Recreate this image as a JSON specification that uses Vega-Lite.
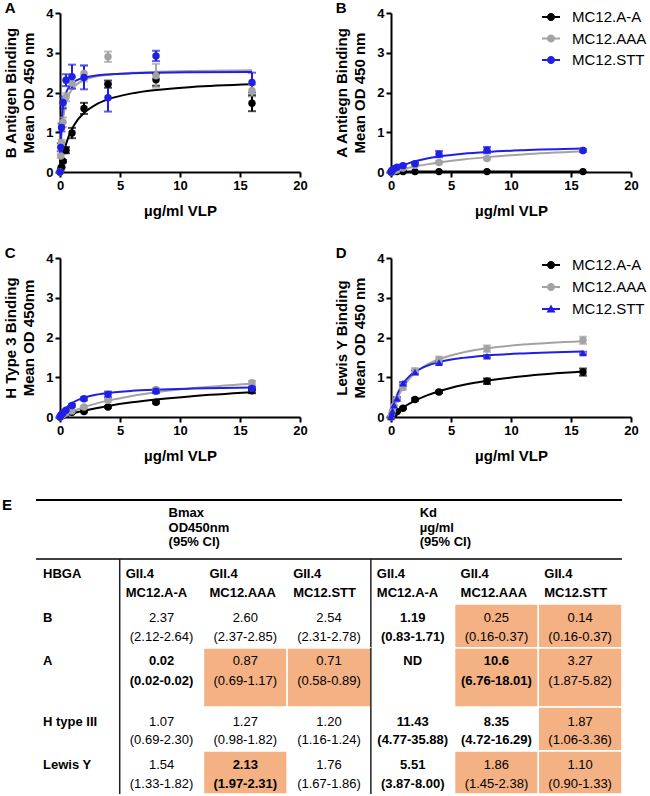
{
"$schema": "https://vega.github.io/schema/vega-lite/v6.json",
"padding": {"left": 2, "top": 1, "right": 0, "bottom": 0},
"background": "white",
"config": {
 "view": {"stroke": null},
 "font": "Liberation Sans",
 "axis": {"domainColor": "#000", "domainWidth": 2, "tickColor": "#000", "tickWidth": 2, "tickSize": 5, "labelColor": "#000", "labelFont": "Liberation Sans", "labelFontSize": 13, "labelFontWeight": "bold", "labelPadding": 2, "titleColor": "#000", "titleFont": "Liberation Sans", "titleFontSize": 15, "titleFontWeight": "bold", "grid": false, "titleLineHeight": 18, "labelFlush": false, "labelOverlap": false},
 "axisX": {"titlePadding": 11},
 "axisY": {"titlePadding": 9},
 "title": {"fontSize": 15, "fontWeight": "bold", "color": "#000", "anchor": "start", "frame": "bounds", "font": "Liberation Sans"},
 "text": {"font": "Liberation Sans", "fontSize": 13, "color": "#000", "baseline": "middle"}
},
"datasets": {
 "fit": [
  {"p":"A","s":"MC12.A-A","x":0,"y":0},{"p":"A","s":"MC12.A-A","x":0.0625,"y":0.118},{"p":"A","s":"MC12.A-A","x":0.125,"y":0.225},{"p":"A","s":"MC12.A-A","x":0.25,"y":0.411},{"p":"A","s":"MC12.A-A","x":0.5,"y":0.701},{"p":"A","s":"MC12.A-A","x":0.75,"y":0.916},{"p":"A","s":"MC12.A-A","x":1,"y":1.082},{"p":"A","s":"MC12.A-A","x":1.5,"y":1.322},{"p":"A","s":"MC12.A-A","x":2,"y":1.486},{"p":"A","s":"MC12.A-A","x":3,"y":1.697},{"p":"A","s":"MC12.A-A","x":4,"y":1.827},{"p":"A","s":"MC12.A-A","x":6,"y":1.978},{"p":"A","s":"MC12.A-A","x":8,"y":2.063},{"p":"A","s":"MC12.A-A","x":11,"y":2.139},{"p":"A","s":"MC12.A-A","x":16,"y":2.206},
  {"p":"A","s":"MC12.AAA","x":0,"y":0},{"p":"A","s":"MC12.AAA","x":0.0625,"y":0.52},{"p":"A","s":"MC12.AAA","x":0.125,"y":0.867},{"p":"A","s":"MC12.AAA","x":0.25,"y":1.3},{"p":"A","s":"MC12.AAA","x":0.5,"y":1.733},{"p":"A","s":"MC12.AAA","x":0.75,"y":1.95},{"p":"A","s":"MC12.AAA","x":1,"y":2.08},{"p":"A","s":"MC12.AAA","x":1.5,"y":2.229},{"p":"A","s":"MC12.AAA","x":2,"y":2.311},{"p":"A","s":"MC12.AAA","x":3,"y":2.4},{"p":"A","s":"MC12.AAA","x":4,"y":2.447},{"p":"A","s":"MC12.AAA","x":6,"y":2.496},{"p":"A","s":"MC12.AAA","x":8,"y":2.521},{"p":"A","s":"MC12.AAA","x":11,"y":2.542},{"p":"A","s":"MC12.AAA","x":16,"y":2.56},
  {"p":"A","s":"MC12.STT","x":0,"y":0},{"p":"A","s":"MC12.STT","x":0.0625,"y":0.784},{"p":"A","s":"MC12.STT","x":0.125,"y":1.198},{"p":"A","s":"MC12.STT","x":0.25,"y":1.628},{"p":"A","s":"MC12.STT","x":0.5,"y":1.984},{"p":"A","s":"MC12.STT","x":0.75,"y":2.14},{"p":"A","s":"MC12.STT","x":1,"y":2.228},{"p":"A","s":"MC12.STT","x":1.5,"y":2.323},{"p":"A","s":"MC12.STT","x":2,"y":2.374},{"p":"A","s":"MC12.STT","x":3,"y":2.427},{"p":"A","s":"MC12.STT","x":4,"y":2.454},{"p":"A","s":"MC12.STT","x":6,"y":2.482},{"p":"A","s":"MC12.STT","x":8,"y":2.496},{"p":"A","s":"MC12.STT","x":11,"y":2.508},{"p":"A","s":"MC12.STT","x":16,"y":2.518},
  {"p":"B","s":"MC12.A-A","x":0,"y":0},{"p":"B","s":"MC12.A-A","x":0.5,"y":0.008},{"p":"B","s":"MC12.A-A","x":1,"y":0.01},{"p":"B","s":"MC12.A-A","x":2,"y":0.011},{"p":"B","s":"MC12.A-A","x":4,"y":0.011},{"p":"B","s":"MC12.A-A","x":8,"y":0.012},{"p":"B","s":"MC12.A-A","x":16,"y":0.013},
  {"p":"B","s":"MC12.AAA","x":0,"y":0},{"p":"B","s":"MC12.AAA","x":0.0625,"y":0.0054},{"p":"B","s":"MC12.AAA","x":0.125,"y":0.0101},{"p":"B","s":"MC12.AAA","x":0.25,"y":0.02},{"p":"B","s":"MC12.AAA","x":0.5,"y":0.0392},{"p":"B","s":"MC12.AAA","x":0.75,"y":0.0575},{"p":"B","s":"MC12.AAA","x":1,"y":0.075},{"p":"B","s":"MC12.AAA","x":1.5,"y":0.1079},{"p":"B","s":"MC12.AAA","x":2,"y":0.138},{"p":"B","s":"MC12.AAA","x":3,"y":0.1919},{"p":"B","s":"MC12.AAA","x":4,"y":0.2384},{"p":"B","s":"MC12.AAA","x":6,"y":0.3145},{"p":"B","s":"MC12.AAA","x":8,"y":0.3742},{"p":"B","s":"MC12.AAA","x":11,"y":0.443},{"p":"B","s":"MC12.AAA","x":16,"y":0.5233},
  {"p":"B","s":"MC12.STT","x":0,"y":0},{"p":"B","s":"MC12.STT","x":0.0625,"y":0.0133},{"p":"B","s":"MC12.STT","x":0.125,"y":0.0261},{"p":"B","s":"MC12.STT","x":0.25,"y":0.0504},{"p":"B","s":"MC12.STT","x":0.5,"y":0.0942},{"p":"B","s":"MC12.STT","x":0.75,"y":0.1325},{"p":"B","s":"MC12.STT","x":1,"y":0.1663},{"p":"B","s":"MC12.STT","x":1.5,"y":0.2233},{"p":"B","s":"MC12.STT","x":2,"y":0.2694},{"p":"B","s":"MC12.STT","x":3,"y":0.3397},{"p":"B","s":"MC12.STT","x":4,"y":0.3906},{"p":"B","s":"MC12.STT","x":6,"y":0.4595},{"p":"B","s":"MC12.STT","x":8,"y":0.504},{"p":"B","s":"MC12.STT","x":11,"y":0.547},{"p":"B","s":"MC12.STT","x":16,"y":0.5895},
  {"p":"C","s":"MC12.A-A","x":0,"y":0},{"p":"C","s":"MC12.A-A","x":0.0625,"y":0.0058},{"p":"C","s":"MC12.A-A","x":0.125,"y":0.0116},{"p":"C","s":"MC12.A-A","x":0.25,"y":0.0229},{"p":"C","s":"MC12.A-A","x":0.5,"y":0.0448},{"p":"C","s":"MC12.A-A","x":0.75,"y":0.0659},{"p":"C","s":"MC12.A-A","x":1,"y":0.0861},{"p":"C","s":"MC12.A-A","x":1.5,"y":0.1241},{"p":"C","s":"MC12.A-A","x":2,"y":0.1593},{"p":"C","s":"MC12.A-A","x":3,"y":0.2225},{"p":"C","s":"MC12.A-A","x":4,"y":0.2774},{"p":"C","s":"MC12.A-A","x":6,"y":0.3683},{"p":"C","s":"MC12.A-A","x":8,"y":0.4405},{"p":"C","s":"MC12.A-A","x":11,"y":0.5247},{"p":"C","s":"MC12.A-A","x":16,"y":0.6242},
  {"p":"C","s":"MC12.AAA","x":0,"y":0},{"p":"C","s":"MC12.AAA","x":0.0625,"y":0.0094},{"p":"C","s":"MC12.AAA","x":0.125,"y":0.0187},{"p":"C","s":"MC12.AAA","x":0.25,"y":0.0369},{"p":"C","s":"MC12.AAA","x":0.5,"y":0.0718},{"p":"C","s":"MC12.AAA","x":0.75,"y":0.1047},{"p":"C","s":"MC12.AAA","x":1,"y":0.1358},{"p":"C","s":"MC12.AAA","x":1.5,"y":0.1934},{"p":"C","s":"MC12.AAA","x":2,"y":0.2454},{"p":"C","s":"MC12.AAA","x":3,"y":0.3357},{"p":"C","s":"MC12.AAA","x":4,"y":0.4113},{"p":"C","s":"MC12.AAA","x":6,"y":0.531},{"p":"C","s":"MC12.AAA","x":8,"y":0.6214},{"p":"C","s":"MC12.AAA","x":11,"y":0.722},{"p":"C","s":"MC12.AAA","x":16,"y":0.8345},
  {"p":"C","s":"MC12.STT","x":0,"y":0},{"p":"C","s":"MC12.STT","x":0.0625,"y":0.0367},{"p":"C","s":"MC12.STT","x":0.125,"y":0.0702},{"p":"C","s":"MC12.STT","x":0.25,"y":0.129},{"p":"C","s":"MC12.STT","x":0.5,"y":0.222},{"p":"C","s":"MC12.STT","x":0.75,"y":0.293},{"p":"C","s":"MC12.STT","x":1,"y":0.348},{"p":"C","s":"MC12.STT","x":1.5,"y":0.429},{"p":"C","s":"MC12.STT","x":2,"y":0.485},{"p":"C","s":"MC12.STT","x":3,"y":0.558},{"p":"C","s":"MC12.STT","x":4,"y":0.604},{"p":"C","s":"MC12.STT","x":6,"y":0.658},{"p":"C","s":"MC12.STT","x":8,"y":0.688},{"p":"C","s":"MC12.STT","x":11,"y":0.715},{"p":"C","s":"MC12.STT","x":16,"y":0.74},
  {"p":"D","s":"MC12.A-A","x":0,"y":0},{"p":"D","s":"MC12.A-A","x":0.0625,"y":0.0173},{"p":"D","s":"MC12.A-A","x":0.125,"y":0.0341},{"p":"D","s":"MC12.A-A","x":0.25,"y":0.0668},{"p":"D","s":"MC12.A-A","x":0.5,"y":0.1281},{"p":"D","s":"MC12.A-A","x":0.75,"y":0.1845},{"p":"D","s":"MC12.A-A","x":1,"y":0.2366},{"p":"D","s":"MC12.A-A","x":1.5,"y":0.3295},{"p":"D","s":"MC12.A-A","x":2,"y":0.4101},{"p":"D","s":"MC12.A-A","x":3,"y":0.5429},{"p":"D","s":"MC12.A-A","x":4,"y":0.6477},{"p":"D","s":"MC12.A-A","x":6,"y":0.8028},{"p":"D","s":"MC12.A-A","x":8,"y":0.9119},{"p":"D","s":"MC12.A-A","x":11,"y":1.026},{"p":"D","s":"MC12.A-A","x":16,"y":1.1445},
  {"p":"D","s":"MC12.AAA","x":0,"y":0},{"p":"D","s":"MC12.AAA","x":0.0625,"y":0.0692},{"p":"D","s":"MC12.AAA","x":0.125,"y":0.1338},{"p":"D","s":"MC12.AAA","x":0.25,"y":0.2524},{"p":"D","s":"MC12.AAA","x":0.5,"y":0.4513},{"p":"D","s":"MC12.AAA","x":0.75,"y":0.6121},{"p":"D","s":"MC12.AAA","x":1,"y":0.7448},{"p":"D","s":"MC12.AAA","x":1.5,"y":0.9509},{"p":"D","s":"MC12.AAA","x":2,"y":1.104},{"p":"D","s":"MC12.AAA","x":3,"y":1.315},{"p":"D","s":"MC12.AAA","x":4,"y":1.454},{"p":"D","s":"MC12.AAA","x":6,"y":1.626},{"p":"D","s":"MC12.AAA","x":8,"y":1.728},{"p":"D","s":"MC12.AAA","x":11,"y":1.822},{"p":"D","s":"MC12.AAA","x":16,"y":1.908},
  {"p":"D","s":"MC12.STT","x":0,"y":0},{"p":"D","s":"MC12.STT","x":0.0625,"y":0.0946},{"p":"D","s":"MC12.STT","x":0.125,"y":0.1796},{"p":"D","s":"MC12.STT","x":0.25,"y":0.3259},{"p":"D","s":"MC12.STT","x":0.5,"y":0.55},{"p":"D","s":"MC12.STT","x":0.75,"y":0.7135},{"p":"D","s":"MC12.STT","x":1,"y":0.8381},{"p":"D","s":"MC12.STT","x":1.5,"y":1.0154},{"p":"D","s":"MC12.STT","x":2,"y":1.1355},{"p":"D","s":"MC12.STT","x":3,"y":1.2878},{"p":"D","s":"MC12.STT","x":4,"y":1.3804},{"p":"D","s":"MC12.STT","x":6,"y":1.4873},{"p":"D","s":"MC12.STT","x":8,"y":1.5473},{"p":"D","s":"MC12.STT","x":11,"y":1.6},{"p":"D","s":"MC12.STT","x":16,"y":1.6468}
 ],
 "pts": [
  {"p":"A","s":"MC12.A-A","x":0,"y":0,"sd":0},{"p":"A","s":"MC12.A-A","x":0.0625,"y":0.05,"sd":0},{"p":"A","s":"MC12.A-A","x":0.125,"y":0.12,"sd":0.02},{"p":"A","s":"MC12.A-A","x":0.25,"y":0.27,"sd":0.03},{"p":"A","s":"MC12.A-A","x":0.5,"y":0.55,"sd":0.08},{"p":"A","s":"MC12.A-A","x":1,"y":0.98,"sd":0.13},{"p":"A","s":"MC12.A-A","x":2,"y":1.6,"sd":0.14},{"p":"A","s":"MC12.A-A","x":4,"y":2.21,"sd":0.09},{"p":"A","s":"MC12.A-A","x":8,"y":2.32,"sd":0.15},{"p":"A","s":"MC12.A-A","x":16,"y":1.73,"sd":0.2},
  {"p":"A","s":"MC12.AAA","x":0,"y":0,"sd":0},{"p":"A","s":"MC12.AAA","x":0.0625,"y":0.4,"sd":0.05},{"p":"A","s":"MC12.AAA","x":0.125,"y":0.73,"sd":0.08},{"p":"A","s":"MC12.AAA","x":0.25,"y":1.25,"sd":0.12},{"p":"A","s":"MC12.AAA","x":0.5,"y":1.88,"sd":0.1},{"p":"A","s":"MC12.AAA","x":1,"y":2.24,"sd":0.15},{"p":"A","s":"MC12.AAA","x":2,"y":2.48,"sd":0.2},{"p":"A","s":"MC12.AAA","x":4,"y":2.9,"sd":0.13},{"p":"A","s":"MC12.AAA","x":8,"y":2.42,"sd":0.3},{"p":"A","s":"MC12.AAA","x":16,"y":2.05,"sd":0.15},
  {"p":"A","s":"MC12.STT","x":0,"y":0,"sd":0},{"p":"A","s":"MC12.STT","x":0.0625,"y":0.62,"sd":0.1},{"p":"A","s":"MC12.STT","x":0.125,"y":1.12,"sd":0.1},{"p":"A","s":"MC12.STT","x":0.25,"y":1.75,"sd":0.15},{"p":"A","s":"MC12.STT","x":0.5,"y":2.31,"sd":0.15},{"p":"A","s":"MC12.STT","x":1,"y":2.4,"sd":0.3},{"p":"A","s":"MC12.STT","x":2,"y":2.38,"sd":0.3},{"p":"A","s":"MC12.STT","x":4,"y":1.87,"sd":0.35},{"p":"A","s":"MC12.STT","x":8,"y":2.92,"sd":0.13},{"p":"A","s":"MC12.STT","x":16,"y":2.25,"sd":0.25},
  {"p":"B","s":"MC12.A-A","x":0,"y":0,"sd":0},{"p":"B","s":"MC12.A-A","x":0.0625,"y":0.01,"sd":0},{"p":"B","s":"MC12.A-A","x":0.125,"y":0.01,"sd":0},{"p":"B","s":"MC12.A-A","x":0.25,"y":0.01,"sd":0},{"p":"B","s":"MC12.A-A","x":0.5,"y":0.01,"sd":0},{"p":"B","s":"MC12.A-A","x":1,"y":0.01,"sd":0},{"p":"B","s":"MC12.A-A","x":2,"y":0.01,"sd":0},{"p":"B","s":"MC12.A-A","x":4,"y":0.01,"sd":0},{"p":"B","s":"MC12.A-A","x":8,"y":0.01,"sd":0},{"p":"B","s":"MC12.A-A","x":16,"y":0.01,"sd":0},
  {"p":"B","s":"MC12.AAA","x":0,"y":0,"sd":0},{"p":"B","s":"MC12.AAA","x":0.0625,"y":0.01,"sd":0},{"p":"B","s":"MC12.AAA","x":0.125,"y":0.02,"sd":0},{"p":"B","s":"MC12.AAA","x":0.25,"y":0.03,"sd":0},{"p":"B","s":"MC12.AAA","x":0.5,"y":0.05,"sd":0},{"p":"B","s":"MC12.AAA","x":1,"y":0.1,"sd":0.02},{"p":"B","s":"MC12.AAA","x":2,"y":0.17,"sd":0.02},{"p":"B","s":"MC12.AAA","x":4,"y":0.24,"sd":0.03},{"p":"B","s":"MC12.AAA","x":8,"y":0.34,"sd":0.03},{"p":"B","s":"MC12.AAA","x":16,"y":0.54,"sd":0.03},
  {"p":"B","s":"MC12.STT","x":0,"y":0,"sd":0},{"p":"B","s":"MC12.STT","x":0.0625,"y":0.03,"sd":0},{"p":"B","s":"MC12.STT","x":0.125,"y":0.05,"sd":0},{"p":"B","s":"MC12.STT","x":0.25,"y":0.08,"sd":0},{"p":"B","s":"MC12.STT","x":0.5,"y":0.12,"sd":0.02},{"p":"B","s":"MC12.STT","x":1,"y":0.16,"sd":0.03},{"p":"B","s":"MC12.STT","x":2,"y":0.21,"sd":0.03},{"p":"B","s":"MC12.STT","x":4,"y":0.45,"sd":0.08},{"p":"B","s":"MC12.STT","x":8,"y":0.55,"sd":0.08},{"p":"B","s":"MC12.STT","x":16,"y":0.54,"sd":0.03},
  {"p":"C","s":"MC12.A-A","x":0,"y":0,"sd":0},{"p":"C","s":"MC12.A-A","x":0.0625,"y":0.01,"sd":0},{"p":"C","s":"MC12.A-A","x":0.125,"y":0.03,"sd":0},{"p":"C","s":"MC12.A-A","x":0.25,"y":0.05,"sd":0},{"p":"C","s":"MC12.A-A","x":0.5,"y":0.08,"sd":0},{"p":"C","s":"MC12.A-A","x":1,"y":0.12,"sd":0.02},{"p":"C","s":"MC12.A-A","x":2,"y":0.14,"sd":0.02},{"p":"C","s":"MC12.A-A","x":4,"y":0.25,"sd":0.02},{"p":"C","s":"MC12.A-A","x":8,"y":0.37,"sd":0.03},{"p":"C","s":"MC12.A-A","x":16,"y":0.66,"sd":0.06},
  {"p":"C","s":"MC12.AAA","x":0,"y":0,"sd":0},{"p":"C","s":"MC12.AAA","x":0.0625,"y":0.02,"sd":0},{"p":"C","s":"MC12.AAA","x":0.125,"y":0.04,"sd":0},{"p":"C","s":"MC12.AAA","x":0.25,"y":0.06,"sd":0},{"p":"C","s":"MC12.AAA","x":0.5,"y":0.1,"sd":0},{"p":"C","s":"MC12.AAA","x":1,"y":0.15,"sd":0.02},{"p":"C","s":"MC12.AAA","x":2,"y":0.25,"sd":0.03},{"p":"C","s":"MC12.AAA","x":4,"y":0.42,"sd":0.03},{"p":"C","s":"MC12.AAA","x":8,"y":0.69,"sd":0.04},{"p":"C","s":"MC12.AAA","x":16,"y":0.86,"sd":0.05},
  {"p":"C","s":"MC12.STT","x":0,"y":0,"sd":0},{"p":"C","s":"MC12.STT","x":0.0625,"y":0.04,"sd":0},{"p":"C","s":"MC12.STT","x":0.125,"y":0.06,"sd":0},{"p":"C","s":"MC12.STT","x":0.25,"y":0.1,"sd":0},{"p":"C","s":"MC12.STT","x":0.5,"y":0.17,"sd":0.02},{"p":"C","s":"MC12.STT","x":1,"y":0.29,"sd":0.03},{"p":"C","s":"MC12.STT","x":2,"y":0.46,"sd":0.04},{"p":"C","s":"MC12.STT","x":4,"y":0.57,"sd":0.07},{"p":"C","s":"MC12.STT","x":8,"y":0.65,"sd":0.05},{"p":"C","s":"MC12.STT","x":16,"y":0.72,"sd":0.04},
  {"p":"D","s":"MC12.A-A","x":0,"y":0,"sd":0},{"p":"D","s":"MC12.A-A","x":0.0625,"y":0.02,"sd":0},{"p":"D","s":"MC12.A-A","x":0.125,"y":0.04,"sd":0},{"p":"D","s":"MC12.A-A","x":0.25,"y":0.07,"sd":0},{"p":"D","s":"MC12.A-A","x":0.5,"y":0.14,"sd":0.02},{"p":"D","s":"MC12.A-A","x":1,"y":0.22,"sd":0.02},{"p":"D","s":"MC12.A-A","x":2,"y":0.44,"sd":0.03},{"p":"D","s":"MC12.A-A","x":4,"y":0.63,"sd":0.03},{"p":"D","s":"MC12.A-A","x":8,"y":0.9,"sd":0.07},{"p":"D","s":"MC12.A-A","x":16,"y":1.13,"sd":0.09},
  {"p":"D","s":"MC12.AAA","x":0,"y":0,"sd":0},{"p":"D","s":"MC12.AAA","x":0.0625,"y":0.08,"sd":0},{"p":"D","s":"MC12.AAA","x":0.125,"y":0.15,"sd":0},{"p":"D","s":"MC12.AAA","x":0.25,"y":0.27,"sd":0.03},{"p":"D","s":"MC12.AAA","x":0.5,"y":0.45,"sd":0.04},{"p":"D","s":"MC12.AAA","x":1,"y":0.74,"sd":0.05},{"p":"D","s":"MC12.AAA","x":2,"y":1.15,"sd":0.08},{"p":"D","s":"MC12.AAA","x":4,"y":1.44,"sd":0.08},{"p":"D","s":"MC12.AAA","x":8,"y":1.72,"sd":0.08},{"p":"D","s":"MC12.AAA","x":16,"y":1.93,"sd":0.09},
  {"p":"D","s":"MC12.STT","x":0,"y":0,"sd":0},{"p":"D","s":"MC12.STT","x":0.0625,"y":0.07,"sd":0},{"p":"D","s":"MC12.STT","x":0.125,"y":0.15,"sd":0},{"p":"D","s":"MC12.STT","x":0.25,"y":0.3,"sd":0},{"p":"D","s":"MC12.STT","x":0.5,"y":0.47,"sd":0.03},{"p":"D","s":"MC12.STT","x":1,"y":0.85,"sd":0.03},{"p":"D","s":"MC12.STT","x":2,"y":1.13,"sd":0.04},{"p":"D","s":"MC12.STT","x":4,"y":1.37,"sd":0.03},{"p":"D","s":"MC12.STT","x":8,"y":1.53,"sd":0.03},{"p":"D","s":"MC12.STT","x":16,"y":1.61,"sd":0.03}
 ],
 "tbl": [
  {"r":"hdr","c":"c1","v":"Bmax\nOD450nm\n(95% CI)"},
  {"r":"hdr","c":"c4","v":"Kd\nµg/ml\n(95% CI)"},
  {"r":"HBGA","c":"lab","v":"HBGA"},
  {"r":"HBGA","c":"c1","v":"GII.4\nMC12.A-A"},
  {"r":"HBGA","c":"c2","v":"GII.4\nMC12.AAA"},
  {"r":"HBGA","c":"c3","v":"GII.4\nMC12.STT"},
  {"r":"HBGA","c":"c4","v":"GII.4\nMC12.A-A"},
  {"r":"HBGA","c":"c5","v":"GII.4\nMC12.AAA"},
  {"r":"HBGA","c":"c6","v":"GII.4\nMC12.STT"},
  {"r":"B","c":"lab","v":"B"},
  {"r":"B","c":"c1","v":"2.37","ci":"(2.12-2.64)","b":false,"hl":false},
  {"r":"B","c":"c2","v":"2.60","ci":"(2.37-2.85)","b":false,"hl":false},
  {"r":"B","c":"c3","v":"2.54","ci":"(2.31-2.78)","b":false,"hl":false},
  {"r":"B","c":"c4","v":"1.19","ci":"(0.83-1.71)","b":true,"hl":false},
  {"r":"B","c":"c5","v":"0.25","ci":"(0.16-0.37)","b":false,"hl":true},
  {"r":"B","c":"c6","v":"0.14","ci":"(0.16-0.37)","b":false,"hl":true},
  {"r":"A","c":"lab","v":"A"},
  {"r":"A","c":"c1","v":"0.02","ci":"(0.02-0.02)","b":true,"hl":false},
  {"r":"A","c":"c2","v":"0.87","ci":"(0.69-1.17)","b":false,"hl":true},
  {"r":"A","c":"c3","v":"0.71","ci":"(0.58-0.89)","b":false,"hl":true},
  {"r":"A","c":"c4","v":"ND","ci":"","b":true,"hl":false},
  {"r":"A","c":"c5","v":"10.6","ci":"(6.76-18.01)","b":true,"hl":true},
  {"r":"A","c":"c6","v":"3.27","ci":"(1.87-5.82)","b":false,"hl":true},
  {"r":"H","c":"lab","v":"H type III"},
  {"r":"H","c":"c1","v":"1.07","ci":"(0.69-2.30)","b":false,"hl":false},
  {"r":"H","c":"c2","v":"1.27","ci":"(0.98-1.82)","b":false,"hl":false},
  {"r":"H","c":"c3","v":"1.20","ci":"(1.16-1.24)","b":false,"hl":false},
  {"r":"H","c":"c4","v":"11.43","ci":"(4.77-35.88)","b":true,"hl":false},
  {"r":"H","c":"c5","v":"8.35","ci":"(4.72-16.29)","b":true,"hl":false},
  {"r":"H","c":"c6","v":"1.87","ci":"(1.06-3.36)","b":false,"hl":true},
  {"r":"L","c":"lab","v":"Lewis Y"},
  {"r":"L","c":"c1","v":"1.54","ci":"(1.33-1.82)","b":false,"hl":false},
  {"r":"L","c":"c2","v":"2.13","ci":"(1.97-2.31)","b":true,"hl":true},
  {"r":"L","c":"c3","v":"1.76","ci":"(1.67-1.86)","b":false,"hl":false},
  {"r":"L","c":"c4","v":"5.51","ci":"(3.87-8.00)","b":true,"hl":false},
  {"r":"L","c":"c5","v":"1.86","ci":"(1.45-2.38)","b":false,"hl":true},
  {"r":"L","c":"c6","v":"1.10","ci":"(0.90-1.33)","b":false,"hl":true}
 ]
},
"spacing": 35,
"resolve": {"scale": {"color": "independent", "shape": "independent"}},
"vconcat": [
 {
  "spacing": 28,
  "resolve": {"scale": {"color": "independent", "shape": "independent"}},
  "vconcat": [
   {
    "spacing": 26,
    "resolve": {"scale": {"color": "independent", "shape": "independent"}},
    "hconcat": [
     {
      "width": 264, "height": 159,
      "title": {"text": "A", "dx": 1, "offset": -9},
      "encoding": {
       "x": {"field": "x", "type": "quantitative", "scale": {"domain": [0, 20], "nice": false, "range": [24, 264]}, "axis": {"title": "µg/ml VLP", "values": [0, 5, 10, 15, 20]}},
       "y": {"field": "y", "type": "quantitative", "scale": {"domain": [0, 4], "nice": false}, "axis": {"title": ["B Antigen Binding", "Mean OD 450 nm"], "values": [0, 1, 2, 3, 4], "offset": -24}},
       "color": {"field": "s", "type": "nominal", "scale": {"domain": ["MC12.A-A", "MC12.AAA", "MC12.STT"], "range": ["#000000", "#a3a3a3", "#1f1fe6"]}, "legend": null}
      },
      "layer": [
       {"data": {"name": "fit"}, "transform": [{"filter": "datum.p === 'A'"}], "mark": {"type": "line", "strokeWidth": 2, "interpolate": "monotone"}},
       {"data": {"name": "pts"}, "transform": [{"filter": "datum.p === 'A' && datum.sd > 0"}], "mark": {"type": "errorbar", "ticks": true, "size": 8, "thickness": 2}, "encoding": {"yError": {"field": "sd"}}},
       {"data": {"name": "pts"}, "transform": [{"filter": "datum.p === 'A'"}], "mark": {"type": "circle", "size": 55, "opacity": 1}}
      ]
     },
     {
      "width": 240, "height": 159,
      "title": {"text": "B", "dx": 1, "offset": -9},
      "encoding": {
       "x": {"field": "x", "type": "quantitative", "scale": {"domain": [0, 20], "nice": false}, "axis": {"title": "µg/ml VLP", "values": [0, 5, 10, 15, 20]}},
       "y": {"field": "y", "type": "quantitative", "scale": {"domain": [0, 4], "nice": false}, "axis": {"title": ["A Antiegn Binding", "Mean OD 450 nm"], "values": [0, 1, 2, 3, 4]}},
       "color": {"field": "s", "type": "nominal", "scale": {"domain": ["MC12.A-A", "MC12.AAA", "MC12.STT"], "range": ["#000000", "#a3a3a3", "#1f1fe6"]},
        "legend": {"orient": "none", "legendX": 151, "legendY": -5, "title": null, "symbolSize": 324, "labelFontSize": 15, "labelFont": "Liberation Sans", "labelFontWeight": "normal", "labelColor": "#000", "labelOffset": 12, "rowPadding": 4.5, "padding": 0,
         "encode": {
          "symbols": {"update": {"shape": {"value": "M-1,-0.11H1V0.11H-1Z M0.45,0A0.45,0.45,0,1,1,-0.45,0A0.45,0.45,0,1,1,0.45,0Z"}, "size": {"value": 324}, "fill": {"signal": "datum.value === 'MC12.A-A' ? '#000000' : (datum.value === 'MC12.AAA' ? '#a3a3a3' : '#1f1fe6')"}, "stroke": {"value": "transparent"}, "strokeWidth": {"value": 0}, "opacity": {"value": 1}, "fillOpacity": {"value": 1}}},
          "labels": {"update": {"fontSize": {"value": 15}, "fill": {"value": "#000"}}}}}}
      },
      "layer": [
       {"data": {"name": "fit"}, "transform": [{"filter": "datum.p === 'B'"}], "mark": {"type": "line", "strokeWidth": 2, "interpolate": "monotone"}},
       {"data": {"name": "pts"}, "transform": [{"filter": "datum.p === 'B' && datum.sd > 0"}], "mark": {"type": "errorbar", "ticks": true, "size": 8, "thickness": 2}, "encoding": {"yError": {"field": "sd"}}},
       {"data": {"name": "pts"}, "transform": [{"filter": "datum.p === 'B'"}], "mark": {"type": "circle", "size": 55, "opacity": 1}}
      ]
     }
    ]
   },
   {
    "spacing": 26,
    "resolve": {"scale": {"color": "independent", "shape": "independent"}},
    "hconcat": [
     {
      "width": 264, "height": 159,
      "title": {"text": "C", "dx": 1, "offset": -9},
      "encoding": {
       "x": {"field": "x", "type": "quantitative", "scale": {"domain": [0, 20], "nice": false, "range": [24, 264]}, "axis": {"title": "µg/ml VLP", "values": [0, 5, 10, 15, 20]}},
       "y": {"field": "y", "type": "quantitative", "scale": {"domain": [0, 4], "nice": false}, "axis": {"title": ["H Type 3 Binding", "Mean OD 450nm"], "values": [0, 1, 2, 3, 4], "offset": -24}},
       "color": {"field": "s", "type": "nominal", "scale": {"domain": ["MC12.A-A", "MC12.AAA", "MC12.STT"], "range": ["#000000", "#a3a3a3", "#1f1fe6"]}, "legend": null}
      },
      "layer": [
       {"data": {"name": "fit"}, "transform": [{"filter": "datum.p === 'C'"}], "mark": {"type": "line", "strokeWidth": 2, "interpolate": "monotone"}},
       {"data": {"name": "pts"}, "transform": [{"filter": "datum.p === 'C' && datum.sd > 0"}], "mark": {"type": "errorbar", "ticks": true, "size": 8, "thickness": 2}, "encoding": {"yError": {"field": "sd"}}},
       {"data": {"name": "pts"}, "transform": [{"filter": "datum.p === 'C'"}], "mark": {"type": "circle", "size": 55, "opacity": 1}}
      ]
     },
     {
      "width": 240, "height": 159,
      "title": {"text": "D", "dx": 1, "offset": -9},
      "encoding": {
       "x": {"field": "x", "type": "quantitative", "scale": {"domain": [0, 20], "nice": false}, "axis": {"title": "µg/ml VLP", "values": [0, 5, 10, 15, 20]}},
       "y": {"field": "y", "type": "quantitative", "scale": {"domain": [0, 4], "nice": false}, "axis": {"title": ["Lewis Y Binding", "Mean OD 450 nm"], "values": [0, 1, 2, 3, 4]}},
       "color": {"field": "s", "type": "nominal", "scale": {"domain": ["MC12.A-A", "MC12.AAA", "MC12.STT"], "range": ["#000000", "#a3a3a3", "#1f1fe6"]},
        "legend": {"orient": "none", "legendX": 151, "legendY": -2, "title": null, "symbolSize": 324, "labelFontSize": 15, "labelFont": "Liberation Sans", "labelFontWeight": "normal", "labelColor": "#000", "labelOffset": 12, "rowPadding": 5, "padding": 0,
         "encode": {
          "symbols": {"update": {"shape": {"signal": "datum.value === 'MC12.STT' ? 'M-1,-0.11H1V0.11H-1Z M0,-0.5L0.5,0.38L-0.5,0.38Z' : 'M-1,-0.11H1V0.11H-1Z M0.45,0A0.45,0.45,0,1,1,-0.45,0A0.45,0.45,0,1,1,0.45,0Z'"}, "size": {"value": 324}, "fill": {"signal": "datum.value === 'MC12.A-A' ? '#000000' : (datum.value === 'MC12.AAA' ? '#a3a3a3' : '#1f1fe6')"}, "stroke": {"value": "transparent"}, "strokeWidth": {"value": 0}, "opacity": {"value": 1}, "fillOpacity": {"value": 1}}},
          "labels": {"update": {"fontSize": {"value": 15}, "fill": {"value": "#000"}}}}}}
      },
      "layer": [
       {"data": {"name": "fit"}, "transform": [{"filter": "datum.p === 'D'"}], "mark": {"type": "line", "strokeWidth": 2, "interpolate": "monotone"}},
       {"data": {"name": "pts"}, "transform": [{"filter": "datum.p === 'D' && datum.sd > 0"}], "mark": {"type": "errorbar", "ticks": true, "size": 8, "thickness": 2}, "encoding": {"yError": {"field": "sd"}}},
       {"data": {"name": "pts"}, "transform": [{"filter": "datum.p === 'D' && datum.s !== 'MC12.STT'"}], "mark": {"type": "circle", "size": 55, "opacity": 1}},
       {"data": {"name": "pts"}, "transform": [{"filter": "datum.p === 'D' && datum.s === 'MC12.STT'"}], "mark": {"type": "point", "shape": "triangle-up", "filled": true, "size": 60, "opacity": 1}}
      ]
     }
    ]
   }
  ]
 },
 {
  "title": {"text": "E", "frame": "group", "dx": -34, "offset": -14},
  "spacing": 0,
  "bounds": "flush",
  "vconcat": [
   {
    "width": 586, "height": 59,
    "data": {"name": "tbl"},
    "transform": [{"filter": "datum.r === 'hdr'"}],
    "layer": [
     {"mark": {"type": "text", "align": "left", "dx": 7, "dy": -16.5, "fontSize": 13, "fontWeight": "bold", "lineBreak": "\n", "lineHeight": 14.5},
      "encoding": {"x": {"field": "c", "type": "nominal", "bandPosition": 0, "scale": {"domain": ["lab", "c1", "c2", "c3", "c4", "c5", "c6"], "paddingInner": 0, "paddingOuter": 0}, "axis": null}, "text": {"field": "v"}}},
     {"transform": [{"filter": "datum.c === 'c1'"}], "mark": {"type": "rule", "color": "#000", "strokeWidth": 2},
      "encoding": {"y": {"datum": 1, "type": "quantitative", "scale": {"domain": [0, 1], "nice": false}, "axis": null}}}
    ]
   },
   {
    "width": 586, "height": 45,
    "data": {"name": "tbl"},
    "transform": [{"filter": "datum.r === 'HBGA'"}],
    "layer": [
     {"transform": [{"filter": "datum.c === 'c1'"}], "mark": {"type": "rule", "color": "#000", "strokeWidth": 1.5},
      "encoding": {"y": {"datum": 1, "type": "quantitative", "scale": {"domain": [0, 1], "nice": false}, "axis": null}}},
     {"transform": [{"filter": "datum.c === 'c1' || datum.c === 'c4'"}], "mark": {"type": "rule", "color": "#222", "strokeWidth": 1.5},
      "encoding": {"x": {"field": "c", "type": "nominal", "bandPosition": 0, "scale": {"domain": ["lab", "c1", "c2", "c3", "c4", "c5", "c6"], "paddingInner": 0, "paddingOuter": 0}, "axis": null}}},
     {"transform": [{"filter": "datum.c === 'lab'"}], "mark": {"type": "text", "align": "left", "dx": 7, "dy": -7.5, "fontSize": 13, "fontWeight": "bold"},
      "encoding": {"x": {"field": "c", "type": "nominal", "bandPosition": 0}, "text": {"field": "v"}}},
     {"transform": [{"filter": "datum.c !== 'lab'"}], "mark": {"type": "text", "align": "left", "dx": 6, "dy": -7.5, "fontSize": 13, "fontWeight": "bold", "lineBreak": "\n", "lineHeight": 19},
      "encoding": {"x": {"field": "c", "type": "nominal", "bandPosition": 0}, "text": {"field": "v"}}}
    ]
   },
   {
    "width": 586, "height": 44,
    "data": {"name": "tbl"},
    "transform": [{"filter": "datum.r === 'B'"}],
    "encoding": {"x": {"field": "c", "type": "nominal", "scale": {"domain": ["lab", "c1", "c2", "c3", "c4", "c5", "c6"], "paddingInner": 0, "paddingOuter": 0}, "axis": null}},
    "layer": [
     {"transform": [{"filter": "datum.hl"}], "mark": {"type": "rect", "fill": "#f4b183", "stroke": "white", "strokeWidth": 1.5}},
     {"transform": [{"filter": "datum.c === 'c1' || datum.c === 'c4'"}], "mark": {"type": "rule", "color": "#222", "strokeWidth": 1.5}, "encoding": {"x": {"field": "c", "type": "nominal", "bandPosition": 0}}},
     {"transform": [{"filter": "datum.c === 'lab'"}], "mark": {"type": "text", "align": "left", "dx": 7, "dy": -8, "fontSize": 13, "fontWeight": "bold"}, "encoding": {"x": {"field": "c", "type": "nominal", "bandPosition": 0}, "text": {"field": "v"}}},
     {"transform": [{"filter": "datum.c !== 'lab' && datum.b"}], "mark": {"type": "text", "align": "center", "dy": -8, "fontSize": 13, "fontWeight": "bold"}, "encoding": {"text": {"field": "v"}}},
     {"transform": [{"filter": "datum.c !== 'lab' && datum.b"}], "mark": {"type": "text", "align": "center", "dy": 11, "fontSize": 13, "fontWeight": "bold"}, "encoding": {"text": {"field": "ci"}}},
     {"transform": [{"filter": "datum.c !== 'lab' && !datum.b"}], "mark": {"type": "text", "align": "center", "dy": -8, "fontSize": 13}, "encoding": {"text": {"field": "v"}}},
     {"transform": [{"filter": "datum.c !== 'lab' && !datum.b"}], "mark": {"type": "text", "align": "center", "dy": 11, "fontSize": 13}, "encoding": {"text": {"field": "ci"}}}
    ]
   },
   {
    "width": 586, "height": 59,
    "data": {"name": "tbl"},
    "transform": [{"filter": "datum.r === 'A'"}],
    "encoding": {"x": {"field": "c", "type": "nominal", "scale": {"domain": ["lab", "c1", "c2", "c3", "c4", "c5", "c6"], "paddingInner": 0, "paddingOuter": 0}, "axis": null}},
    "layer": [
     {"transform": [{"filter": "datum.hl"}], "mark": {"type": "rect", "fill": "#f4b183", "stroke": "white", "strokeWidth": 1.5}},
     {"transform": [{"filter": "datum.c === 'c1' || datum.c === 'c4'"}], "mark": {"type": "rule", "color": "#222", "strokeWidth": 1.5}, "encoding": {"x": {"field": "c", "type": "nominal", "bandPosition": 0}}},
     {"transform": [{"filter": "datum.c === 'lab'"}], "mark": {"type": "text", "align": "left", "dx": 7, "dy": -16.5, "fontSize": 13, "fontWeight": "bold"}, "encoding": {"x": {"field": "c", "type": "nominal", "bandPosition": 0}, "text": {"field": "v"}}},
     {"transform": [{"filter": "datum.c !== 'lab' && datum.b"}], "mark": {"type": "text", "align": "center", "dy": -16.5, "fontSize": 13, "fontWeight": "bold"}, "encoding": {"text": {"field": "v"}}},
     {"transform": [{"filter": "datum.c !== 'lab' && datum.b"}], "mark": {"type": "text", "align": "center", "dy": 3.5, "fontSize": 13, "fontWeight": "bold"}, "encoding": {"text": {"field": "ci"}}},
     {"transform": [{"filter": "datum.c !== 'lab' && !datum.b"}], "mark": {"type": "text", "align": "center", "dy": -16.5, "fontSize": 13}, "encoding": {"text": {"field": "v"}}},
     {"transform": [{"filter": "datum.c !== 'lab' && !datum.b"}], "mark": {"type": "text", "align": "center", "dy": 3.5, "fontSize": 13}, "encoding": {"text": {"field": "ci"}}}
    ]
   },
   {
    "width": 586, "height": 44,
    "data": {"name": "tbl"},
    "transform": [{"filter": "datum.r === 'H'"}],
    "encoding": {"x": {"field": "c", "type": "nominal", "scale": {"domain": ["lab", "c1", "c2", "c3", "c4", "c5", "c6"], "paddingInner": 0, "paddingOuter": 0}, "axis": null}},
    "layer": [
     {"transform": [{"filter": "datum.hl"}], "mark": {"type": "rect", "fill": "#f4b183", "stroke": "white", "strokeWidth": 1.5}},
     {"transform": [{"filter": "datum.c === 'c1' || datum.c === 'c4'"}], "mark": {"type": "rule", "color": "#222", "strokeWidth": 1.5}, "encoding": {"x": {"field": "c", "type": "nominal", "bandPosition": 0}}},
     {"transform": [{"filter": "datum.c === 'lab'"}], "mark": {"type": "text", "align": "left", "dx": 7, "dy": -7, "fontSize": 13, "fontWeight": "bold"}, "encoding": {"x": {"field": "c", "type": "nominal", "bandPosition": 0}, "text": {"field": "v"}}},
     {"transform": [{"filter": "datum.c !== 'lab' && datum.b"}], "mark": {"type": "text", "align": "center", "dy": -7, "fontSize": 13, "fontWeight": "bold"}, "encoding": {"text": {"field": "v"}}},
     {"transform": [{"filter": "datum.c !== 'lab' && datum.b"}], "mark": {"type": "text", "align": "center", "dy": 11, "fontSize": 13, "fontWeight": "bold"}, "encoding": {"text": {"field": "ci"}}},
     {"transform": [{"filter": "datum.c !== 'lab' && !datum.b"}], "mark": {"type": "text", "align": "center", "dy": -7, "fontSize": 13}, "encoding": {"text": {"field": "v"}}},
     {"transform": [{"filter": "datum.c !== 'lab' && !datum.b"}], "mark": {"type": "text", "align": "center", "dy": 11, "fontSize": 13}, "encoding": {"text": {"field": "ci"}}}
    ]
   },
   {
    "width": 586, "height": 43,
    "data": {"name": "tbl"},
    "transform": [{"filter": "datum.r === 'L'"}],
    "encoding": {"x": {"field": "c", "type": "nominal", "scale": {"domain": ["lab", "c1", "c2", "c3", "c4", "c5", "c6"], "paddingInner": 0, "paddingOuter": 0}, "axis": null}},
    "layer": [
     {"transform": [{"filter": "datum.hl"}], "mark": {"type": "rect", "fill": "#f4b183", "stroke": "white", "strokeWidth": 1.5}},
     {"transform": [{"filter": "datum.c === 'c1' || datum.c === 'c4'"}], "mark": {"type": "rule", "color": "#222", "strokeWidth": 1.5}, "encoding": {"x": {"field": "c", "type": "nominal", "bandPosition": 0}}},
     {"transform": [{"filter": "datum.c === 'lab'"}], "mark": {"type": "text", "align": "left", "dx": 7, "dy": -7.5, "fontSize": 13, "fontWeight": "bold"}, "encoding": {"x": {"field": "c", "type": "nominal", "bandPosition": 0}, "text": {"field": "v"}}},
     {"transform": [{"filter": "datum.c !== 'lab' && datum.b"}], "mark": {"type": "text", "align": "center", "dy": -7.5, "fontSize": 13, "fontWeight": "bold"}, "encoding": {"text": {"field": "v"}}},
     {"transform": [{"filter": "datum.c !== 'lab' && datum.b"}], "mark": {"type": "text", "align": "center", "dy": 11.5, "fontSize": 13, "fontWeight": "bold"}, "encoding": {"text": {"field": "ci"}}},
     {"transform": [{"filter": "datum.c !== 'lab' && !datum.b"}], "mark": {"type": "text", "align": "center", "dy": -7.5, "fontSize": 13}, "encoding": {"text": {"field": "v"}}},
     {"transform": [{"filter": "datum.c !== 'lab' && !datum.b"}], "mark": {"type": "text", "align": "center", "dy": 11.5, "fontSize": 13}, "encoding": {"text": {"field": "ci"}}}
    ]
   }
  ]
 }
]
}
